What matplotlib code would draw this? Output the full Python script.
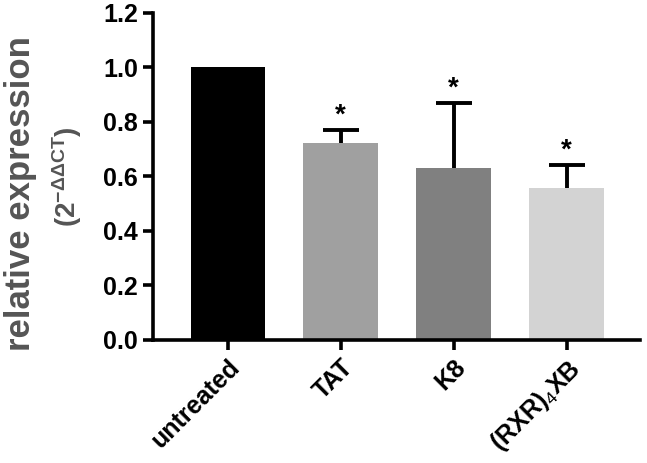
import matplotlib.pyplot as plt
import numpy as np

plt.rcParams['font.family'] = ['Liberation Sans', 'DejaVu Sans']
plt.rcParams['mathtext.fontset'] = 'custom'
plt.rcParams['mathtext.rm'] = 'Liberation Sans'
plt.rcParams['mathtext.it'] = 'Liberation Sans'

groups = ["untreated", "TAT", "K8", r"(RXR)$_4$XB"]
means = [1.0, 0.723, 0.632, 0.558]
errors = [0.0, 0.049, 0.236, 0.084]
stars = ["", "*", "*", "*"]
colors = ["#000000", "#a0a0a0", "#808080", "#d3d3d3"]


def main():
    fig = plt.figure(figsize=(6.47, 4.63), dpi=100)
    ax = fig.add_axes([0.237, 0.266, 0.752, 0.706])

    x = np.arange(len(groups))
    ax.bar(x, means, width=0.66, color=colors, zorder=2)
    # only the upper half of the error bars
    eb = ax.errorbar(x[1:], means[1:], yerr=[np.zeros(3), errors[1:]], fmt='none',
                     ecolor='black', elinewidth=2.8, capsize=13, capthick=2.8, zorder=1)
    eb[1][0].set_visible(False)
    for xi, m, e, s in zip(x, means, errors, stars):
        if s:
            ax.text(xi, m + e + 0.005, s, ha='center', va='bottom',
                    fontsize=20, fontweight='bold')

    ax.set_xlim(-0.66, 3.65)
    ax.set_ylim(0, 1.2)
    ax.set_yticks(np.arange(0, 1.21, 0.2))
    ax.set_yticklabels([f"{v:.1f}" for v in np.arange(0, 1.21, 0.2)],
                       fontsize=18, fontweight='bold')
    ax.set_xticks(x)
    ax.set_xticklabels(groups, rotation=45, ha='right', rotation_mode='anchor',
                       fontsize=18, fontweight='bold')

    for side in ['top', 'right']:
        ax.spines[side].set_visible(False)
    for side in ['left', 'bottom']:
        ax.spines[side].set_linewidth(2.6)
    ax.tick_params(width=2.6, length=7, pad=4)

    fig.text(0.031, 0.583, "relative expression", rotation=90, ha='center',
             va='center', fontsize=25, fontweight='bold', color='#555555')
    fig.text(0.104, 0.618, r"(2$^{\mathregular{-\Delta\Delta CT}}$)", rotation=90,
             ha='center', va='center', fontsize=20, fontweight='bold', color='#555555')

    plt.savefig("out.png", dpi=100)


if __name__ == "__main__":
    main()
